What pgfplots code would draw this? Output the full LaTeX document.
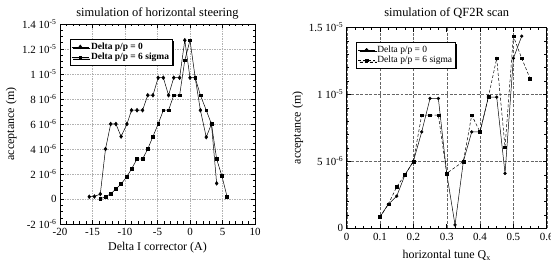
\documentclass[border=0pt]{standalone}
\usepackage{pgfplots}
\pgfplotsset{compat=1.18}
\usepackage{fontspec}
\setmainfont{Liberation Serif}
\usetikzlibrary{shadows}

\pgfplotsset{
 every axis title shift=0pt,
 common/.style={
  scale only axis,
  axis line style={black, line width=0.6pt},
  tick style={black, line width=0.5pt},
  major tick length=4bp, minor tick length=2.5bp,
  tick align=inside,
  grid=major,
  tick label style={font=\fontsize{11}{13}\selectfont},
  x tick label style={yshift=-1bp},
  label style={font=\fontsize{12}{14}\selectfont},
  title style={font=\fontsize{12.5}{14}\selectfont},
  /pgf/number format/assume math mode=true,
  legend cell align=left,
  legend style={draw=black, line width=0.6pt, fill=white,
    font=\fontsize{9.5}{10.5}\selectfont,
    drop shadow={shadow xshift=1.5bp, shadow yshift=-1.5bp, fill=black, opacity=1},
    inner sep=1.5bp, row sep=-1.5pt},
 }
}

\begin{document}
\begin{tikzpicture}
\begin{axis}[common,
  at={(60bp,39bp)}, anchor=south west,
  width=195bp, height=200bp,
  xmin=-20, xmax=10, ymin=-2, ymax=14,
  xtick={-20,-15,...,10},
  xticklabels={-20,-15,-10,-5,0,5,10},
  ytick={-2,0,2,...,14},
  yticklabels={-2 10\textsuperscript{-6},0,2 10\textsuperscript{-6},4 10\textsuperscript{-6},6 10\textsuperscript{-6},8 10\textsuperscript{-6},1 10\textsuperscript{-5},1.2 10\textsuperscript{-5},1.4 10\textsuperscript{-5}},
  minor x tick num=4, minor y tick num=3,
  major grid style={gray!60, dash pattern=on 1.5pt off 1pt, line width=0.4pt},
  title={simulation of horizontal steering},
  title style={at={(axis description cs:0.5,1.055)}, anchor=center},
  xlabel={Delta I corrector (A)},
  xlabel style={at={(axis description cs:0.5,-0.12)}, anchor=center},
  ylabel={acceptance (m)},
  ylabel style={at={(axis description cs:-0.25,0.5)}, anchor=center},
  legend style={at={(0.05,0.925)}, anchor=north west, font=\bfseries\fontsize{9.5}{10.5}\selectfont},
]
\addplot[black, line width=0.5pt, mark=diamond*, mark size=1.9pt] coordinates {
(-15.5,0.18) (-14.7,0.2) (-13.8,0.4) (-13.0,4.0) (-12.2,6.0) (-11.4,6.0) (-10.6,5.0) (-9.7,6.0) (-9.0,7.1) (-8.15,7.1) (-7.3,7.1) (-6.5,8.3) (-5.7,8.3) (-4.9,9.7) (-4.1,9.7) (-3.3,8.3) (-2.5,9.7) (-1.6,9.7) (-0.8,12.7) (0,9.7) (0.8,9.7) (1.6,7.1) (2.5,4.95) (3.3,6.0) (4.1,1.25)
};
\addlegendentry{Delta p/p = 0}
\addplot[black, line width=0.5pt, mark=square*, mark size=1.4pt] coordinates {
(-13.8,0) (-13.0,0.2) (-12.2,0.4) (-11.4,0.8) (-10.6,1.2) (-9.7,1.8) (-9.0,2.4) (-8.15,3.2) (-7.3,3.2) (-6.5,4.0) (-5.7,5.0) (-4.9,6.0) (-4.1,7.1) (-3.3,7.1) (-2.5,8.3) (-1.6,8.3) (-0.8,11.1) (0,12.7) (0.8,9.7) (1.6,8.3) (2.5,7.1) (3.3,6.0) (4.1,3.2) (4.9,1.85) (5.7,0.2)
};
\addlegendentry{Delta p/p = 6 sigma}
\end{axis}

\begin{axis}[common,
  at={(346.7bp,34.7bp)}, anchor=south west,
  width=200bp, height=200.8bp,
  xmin=0, xmax=0.6, ymin=0, ymax=15,
  xtick={0,0.1,...,0.6},
  xticklabels={0,0.1,0.2,0.3,0.4,0.5,0.6},
  ytick={0,5,10,15},
  yticklabels={0,5 10\textsuperscript{-6},1 10\textsuperscript{-5},1.5 10\textsuperscript{-5}},
  minor x tick num=3, minor y tick num=4,
  major grid style={gray!80!black, dash pattern=on 3pt off 1.5pt, line width=0.4pt},
  title={simulation of QF2R scan},
  title style={at={(axis description cs:0.5,1.072)}, anchor=center},
  xlabel={horizontal tune Q\textsubscript{x}},
  xlabel style={at={(axis description cs:0.5,-0.134)}, anchor=center},
  ylabel={acceptance (m)},
  ylabel style={at={(axis description cs:-0.245,0.5)}, anchor=center},
  legend style={at={(0.047,0.928)}, anchor=north west},
]
\addplot[black, line width=0.5pt, mark=*, mark size=1.4pt] coordinates {
(0.1,0.86) (0.125,1.8) (0.15,2.4) (0.175,4.0) (0.2,5.0) (0.225,7.2) (0.25,9.7) (0.275,9.7) (0.3,4.1) (0.325,0.25) (0.35,5.0) (0.375,7.2) (0.4,7.2) (0.425,9.8) (0.45,9.8) (0.475,4.1) (0.5,12.7) (0.525,14.35)
};
\addlegendentry{Delta p/p = 0}
\addplot[black, line width=0.5pt, dash pattern=on 3pt off 2pt, mark=square*, mark size=1.4pt, mark options={solid}] coordinates {
(0.1,0.86) (0.125,1.8) (0.15,3.1) (0.175,4.0) (0.2,5.0) (0.225,8.45) (0.25,8.45) (0.275,8.45) (0.3,4.1) (0.35,5.0) (0.375,8.45) (0.4,7.2) (0.425,9.8) (0.45,12.7) (0.475,6.06) (0.5,14.35) (0.525,12.7) (0.55,11.2)
};
\addlegendentry{Delta p/p = 6 sigma}
\end{axis}
\pgfresetboundingbox
\path[use as bounding box] (0,0) rectangle (551bp,263bp);
\end{tikzpicture}
\end{document}
